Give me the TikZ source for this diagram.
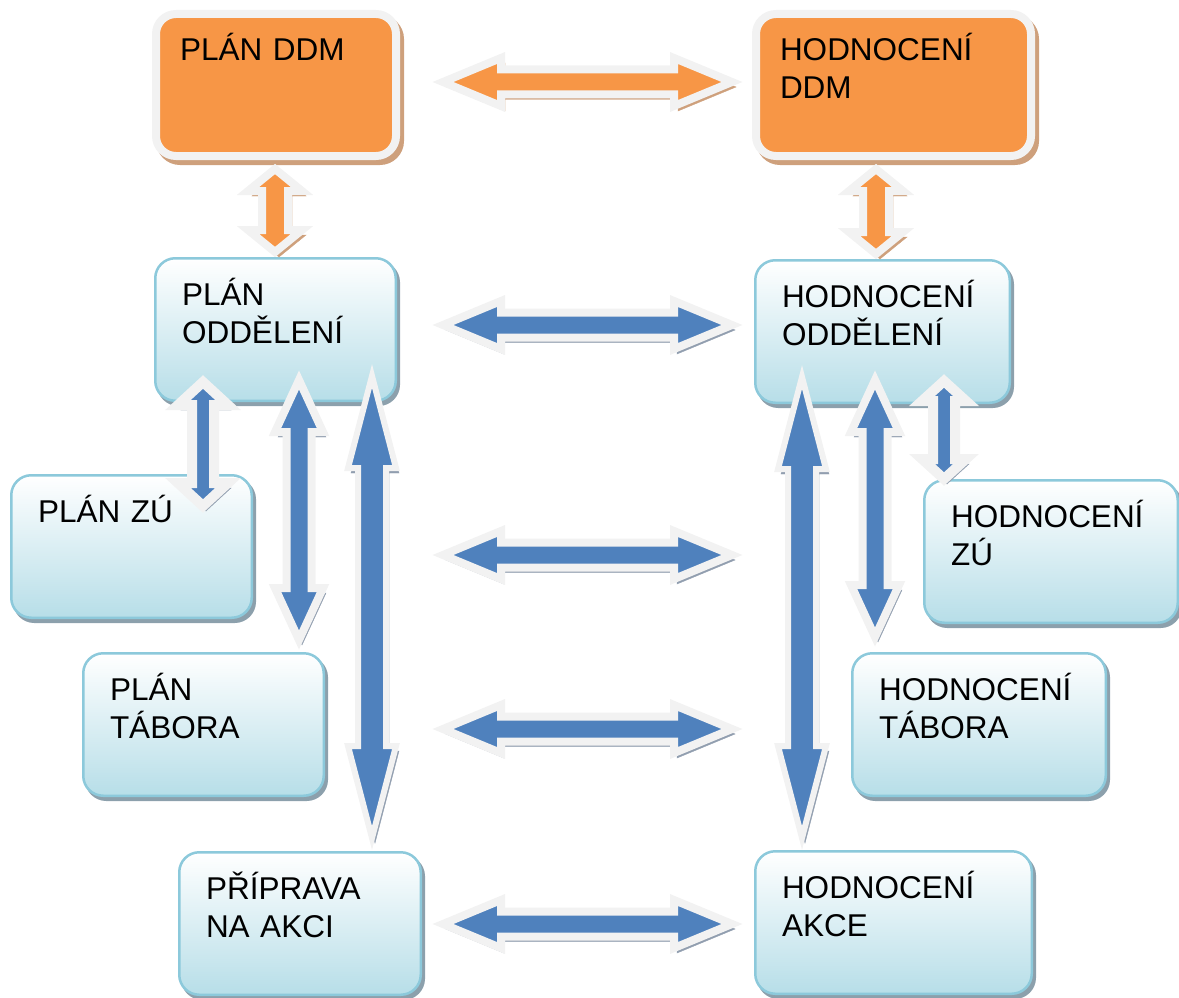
\documentclass[tikz,border=0pt]{standalone}
\usepackage{fontspec}
\setmainfont{Liberation Sans}
\usetikzlibrary{calc}

\definecolor{ddmorange}{RGB}{247,150,70}
\definecolor{ddmshadow}{RGB}{206,160,124}
\definecolor{rimwhite}{RGB}{242,242,242}
\definecolor{linkblue}{RGB}{79,129,189}
\definecolor{linkshadow}{RGB}{145,158,175}
\definecolor{boxrim}{RGB}{140,201,219}
\definecolor{boxfill}{RGB}{183,222,232}
\definecolor{boxshadow}{RGB}{140,160,172}

\tikzset{
  tiplen/.store in=\tiplen, tiphalf/.store in=\tiphalf, shafthalf/.store in=\shafthalf,
  tiplen=58pt, tiphalf=24pt, shafthalf=12.5pt,
  % fat double arrow between two points
  fat/.style={line width=8pt, line join=miter, draw=rimwhite,
    to path={let \p{a}=($(\tikztostart)!\tiplen!(\tikztotarget)$),
                 \p{b}=($(\tikztotarget)!\tiplen!(\tikztostart)$) in
      (\tikztostart) -- ($(\p{a})!\tiphalf!90:(\tikztotarget)$)
      -- ($(\p{a})!\shafthalf!90:(\tikztotarget)$)
      -- ($(\p{b})!\shafthalf!-90:(\tikztostart)$)
      -- ($(\p{b})!\tiphalf!-90:(\tikztostart)$)
      -- (\tikztotarget)
      -- ($(\p{b})!\tiphalf!90:(\tikztostart)$)
      -- ($(\p{b})!\shafthalf!90:(\tikztostart)$)
      -- ($(\p{a})!\shafthalf!-90:(\tikztotarget)$)
      -- ($(\p{a})!\tiphalf!-90:(\tikztotarget)$) -- cycle}},
  bluelink/.style={fat, fill=linkblue,
    preaction={draw=linkshadow, fill=linkshadow, transform canvas={shift={(3pt,-5pt)}}}},
  orangelink/.style={fat, fill=ddmorange,
    preaction={draw=ddmshadow, fill=ddmshadow, transform canvas={shift={(4pt,-5pt)}}}},
  ddmbox/.style={draw=rimwhite, line width=8pt, fill=ddmorange, rounded corners=20pt,
    anchor=north west, align=left, inner xsep=24pt, inner ysep=17pt,
    text height=30pt, text depth=78pt, text width=#1,
    preaction={fill=ddmshadow, draw=ddmshadow, transform canvas={shift={(4pt,-5pt)}}}},
  partbox/.style={draw=boxrim, line width=2.5pt, top color=white, bottom color=boxfill,
    rounded corners=20pt, anchor=north west, align=left, inner xsep=26.75pt, inner ysep=16.75pt,
    text height=30pt, text depth=79pt, text width=#1,
    preaction={fill=boxshadow, draw=boxshadow, transform canvas={shift={(3pt,-4pt)}}}}
}

\begin{document}
\begin{tikzpicture}[x=1pt, y=-1pt, font=\fontsize{31.5}{38}\selectfont]
  \useasboundingbox (0,0) rectangle (1179,998);

  % plans
  \node[ddmbox=192] (pddm) at (152,10) {PLÁN DDM};
  \node[partbox=187] (podd) at (154,257) {PLÁN\\ODDĚLENÍ};
  \node[partbox=187] (pzu) at (10,474) {PLÁN ZÚ};
  \node[partbox=187] (ptab) at (82,652) {PLÁN\\TÁBORA};
  \node[partbox=188] (ppak) at (178,851) {PŘÍPRAVA\\NA AKCI};

  % evaluations
  \node[ddmbox=227] (hddm) at (752,10) {HODNOCENÍ\\DDM};
  \node[partbox=201] (hodd) at (754,259) {HODNOCENÍ\\ODDĚLENÍ};
  \node[partbox=200] (hzu) at (923,479) {HODNOCENÍ\\ZÚ};
  \node[partbox=200] (htab) at (851,652) {HODNOCENÍ\\TÁBORA};
  \node[partbox=223] (hakce) at (754,850) {HODNOCENÍ\\AKCE};

  % orange links
  \draw[orangelink] ([shift={(43,-3)}]pddm.east) to ([shift={(-20,-3)}]hddm.west);
  \draw[orangelink, tiplen=22pt, tiphalf=27pt, shafthalf=13pt]
    ([shift={(-1,9)}]pddm.south) to ([shift={(-0.5,-5)}]podd.north);
  \draw[orangelink, tiplen=22pt, tiphalf=27pt, shafthalf=13pt]
    ([shift={(-17.5,9)}]hddm.south) to ([shift={(-6.5,-5)}]hodd.north);

  % across
  \draw[bluelink] ([shift={(46,-4.5)}]podd.east) to ([shift={(-22,-6.5)}]hodd.west);
  \draw[bluelink] ([shift={(190,8.5)}]pzu.east) to ([shift={(-191,3.5)}]hzu.west);
  \draw[bluelink] ([shift={(118,4.5)}]ptab.east) to ([shift={(-119,4.5)}]htab.west);
  \draw[bluelink] ([shift={(21,0.5)}]ppak.east) to ([shift={(-22,1.5)}]hakce.west);

  % down the left side
  \draw[bluelink, line width=10pt, tiplen=23pt, tiphalf=25pt, shafthalf=11pt]
    ([shift={(49,-20)}]podd.south west) to ([shift={(-50,32)}]pzu.north east);
  \draw[bluelink, tiplen=52pt]
    ([shift={(23.5,-22)}]podd.south) to ([shift={(-26,-12)}]ptab.north east);
  \draw[bluelink, line width=6pt, tiplen=92pt, shafthalf=14pt]
    ([shift={(-25,-26)}]podd.south east) to ([shift={(72,-13)}]ppak.north);

  % down the right side
  \draw[bluelink, line width=10pt, tiplen=20pt, tiphalf=22pt, shafthalf=11pt]
    ([shift={(-67,-23)}]hodd.south east) to ([shift={(21,0)}]hzu.north west);
  \draw[bluelink, tiplen=52pt]
    ([shift={(-7.5,-24)}]hodd.south) to ([shift={(24,-15)}]htab.north west);
  \draw[bluelink, line width=6pt, tiplen=92pt, shafthalf=14pt]
    ([shift={(48,-27)}]hodd.south west) to ([shift={(48,-12)}]hakce.north west);
\end{tikzpicture}
\end{document}
